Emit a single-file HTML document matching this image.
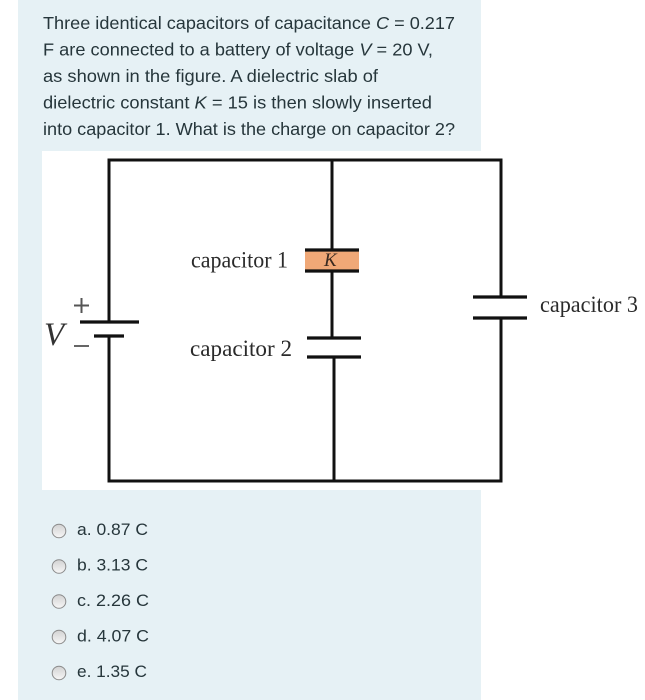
<!DOCTYPE html>
<html>
<head>
<meta charset="utf-8">
<title>Capacitor question</title>
<style>
html,body{margin:0;padding:0;width:645px;height:700px;background:#fff;overflow:hidden}
svg{display:block;filter:blur(0.35px)}
.t{font-family:"Liberation Sans",sans-serif;font-size:17.8px;fill:#26363b}
.o{font-family:"Liberation Sans",sans-serif;font-size:17px;fill:#26363b}
.s{font-family:"Liberation Serif",serif;font-size:23px;fill:#2b2b2b}
.w{stroke:#111;stroke-width:3;fill:none;stroke-linecap:square}
.p{stroke:#111;stroke-width:3.2;fill:none}
.r{fill:url(#rg);stroke:#8a8a8a;stroke-width:1}
</style>
</head>
<body>
<svg width="645" height="700" viewBox="0 0 645 700" xmlns="http://www.w3.org/2000/svg">
<defs>
<linearGradient id="rg" x1="0" y1="0" x2="0" y2="1">
<stop offset="0" stop-color="#d2d2d2"/><stop offset="1" stop-color="#f7f7f7"/>
</linearGradient>
</defs>
<rect width="645" height="700" fill="#fff"/>
<rect x="18" y="0" width="463" height="700" fill="#e6f1f5"/>
<rect x="42" y="151" width="603" height="339" fill="#fff"/>

<text class="t" x="43" y="29" textLength="412" lengthAdjust="spacingAndGlyphs">Three identical capacitors of capacitance <tspan font-style="italic">C</tspan> = 0.217</text>
<text class="t" x="43" y="55.500" textLength="390" lengthAdjust="spacingAndGlyphs">F are connected to a battery of voltage <tspan font-style="italic">V</tspan> = 20 V,</text>
<text class="t" x="43" y="82" textLength="335" lengthAdjust="spacingAndGlyphs">as shown in the figure. A dielectric slab of</text>
<text class="t" x="43" y="108.500" textLength="389" lengthAdjust="spacingAndGlyphs">dielectric constant <tspan font-style="italic">K</tspan> = 15 is then slowly inserted</text>
<text class="t" x="43" y="135" textLength="412" lengthAdjust="spacingAndGlyphs">into capacitor 1. What is the charge on capacitor 2?</text>

<path class="w" d="M109 322V160H501V297"/>
<path class="w" d="M109 336V481H501V318"/>
<path class="w" d="M332 160V250"/>
<path class="w" d="M332 271V338"/>
<path class="w" d="M334 357V481"/>

<rect x="305" y="250" width="54" height="21" fill="#f0a877"/>
<path class="p" d="M305 250H359M305 271H359"/>
<path class="p" d="M307 338H361M307 357H361"/>
<path class="p" d="M473 297H527M473 318H527"/>
<path class="p" d="M80 322H139M94 336H124"/>

<text x="324" y="266" font-family="Liberation Serif,serif" font-style="italic" font-size="19" fill="#3a2a20">K</text>
<text class="s" x="191" y="267.500" textLength="97" lengthAdjust="spacingAndGlyphs">capacitor 1</text>
<text class="s" x="190" y="356" textLength="102" lengthAdjust="spacingAndGlyphs">capacitor 2</text>
<text class="s" x="540" y="312" textLength="98" lengthAdjust="spacingAndGlyphs">capacitor 3</text>
<text x="44" y="345" font-family="Liberation Serif,serif" font-style="italic" font-size="33" fill="#333">V</text>
<path d="M74 305.500H89M81.500 298V313" stroke="#555" stroke-width="2" fill="none"/>
<path d="M74 346H89" stroke="#666" stroke-width="2" fill="none"/>

<circle class="r" cx="59" cy="531" r="6.800"/>
<circle class="r" cx="59" cy="566.500" r="6.800"/>
<circle class="r" cx="59" cy="601.500" r="6.800"/>
<circle class="r" cx="59" cy="637" r="6.800"/>
<circle class="r" cx="59" cy="673" r="6.800"/>

<text class="o" x="77" y="535" textLength="71" lengthAdjust="spacingAndGlyphs">a. 0.87 C</text>
<text class="o" x="77" y="570.500" textLength="71" lengthAdjust="spacingAndGlyphs">b. 3.13 C</text>
<text class="o" x="77" y="606" textLength="72" lengthAdjust="spacingAndGlyphs">c. 2.26 C</text>
<text class="o" x="77" y="641.500" textLength="72" lengthAdjust="spacingAndGlyphs">d. 4.07 C</text>
<text class="o" x="77" y="677" textLength="70" lengthAdjust="spacingAndGlyphs">e. 1.35 C</text>
</svg>
</body>
</html>
